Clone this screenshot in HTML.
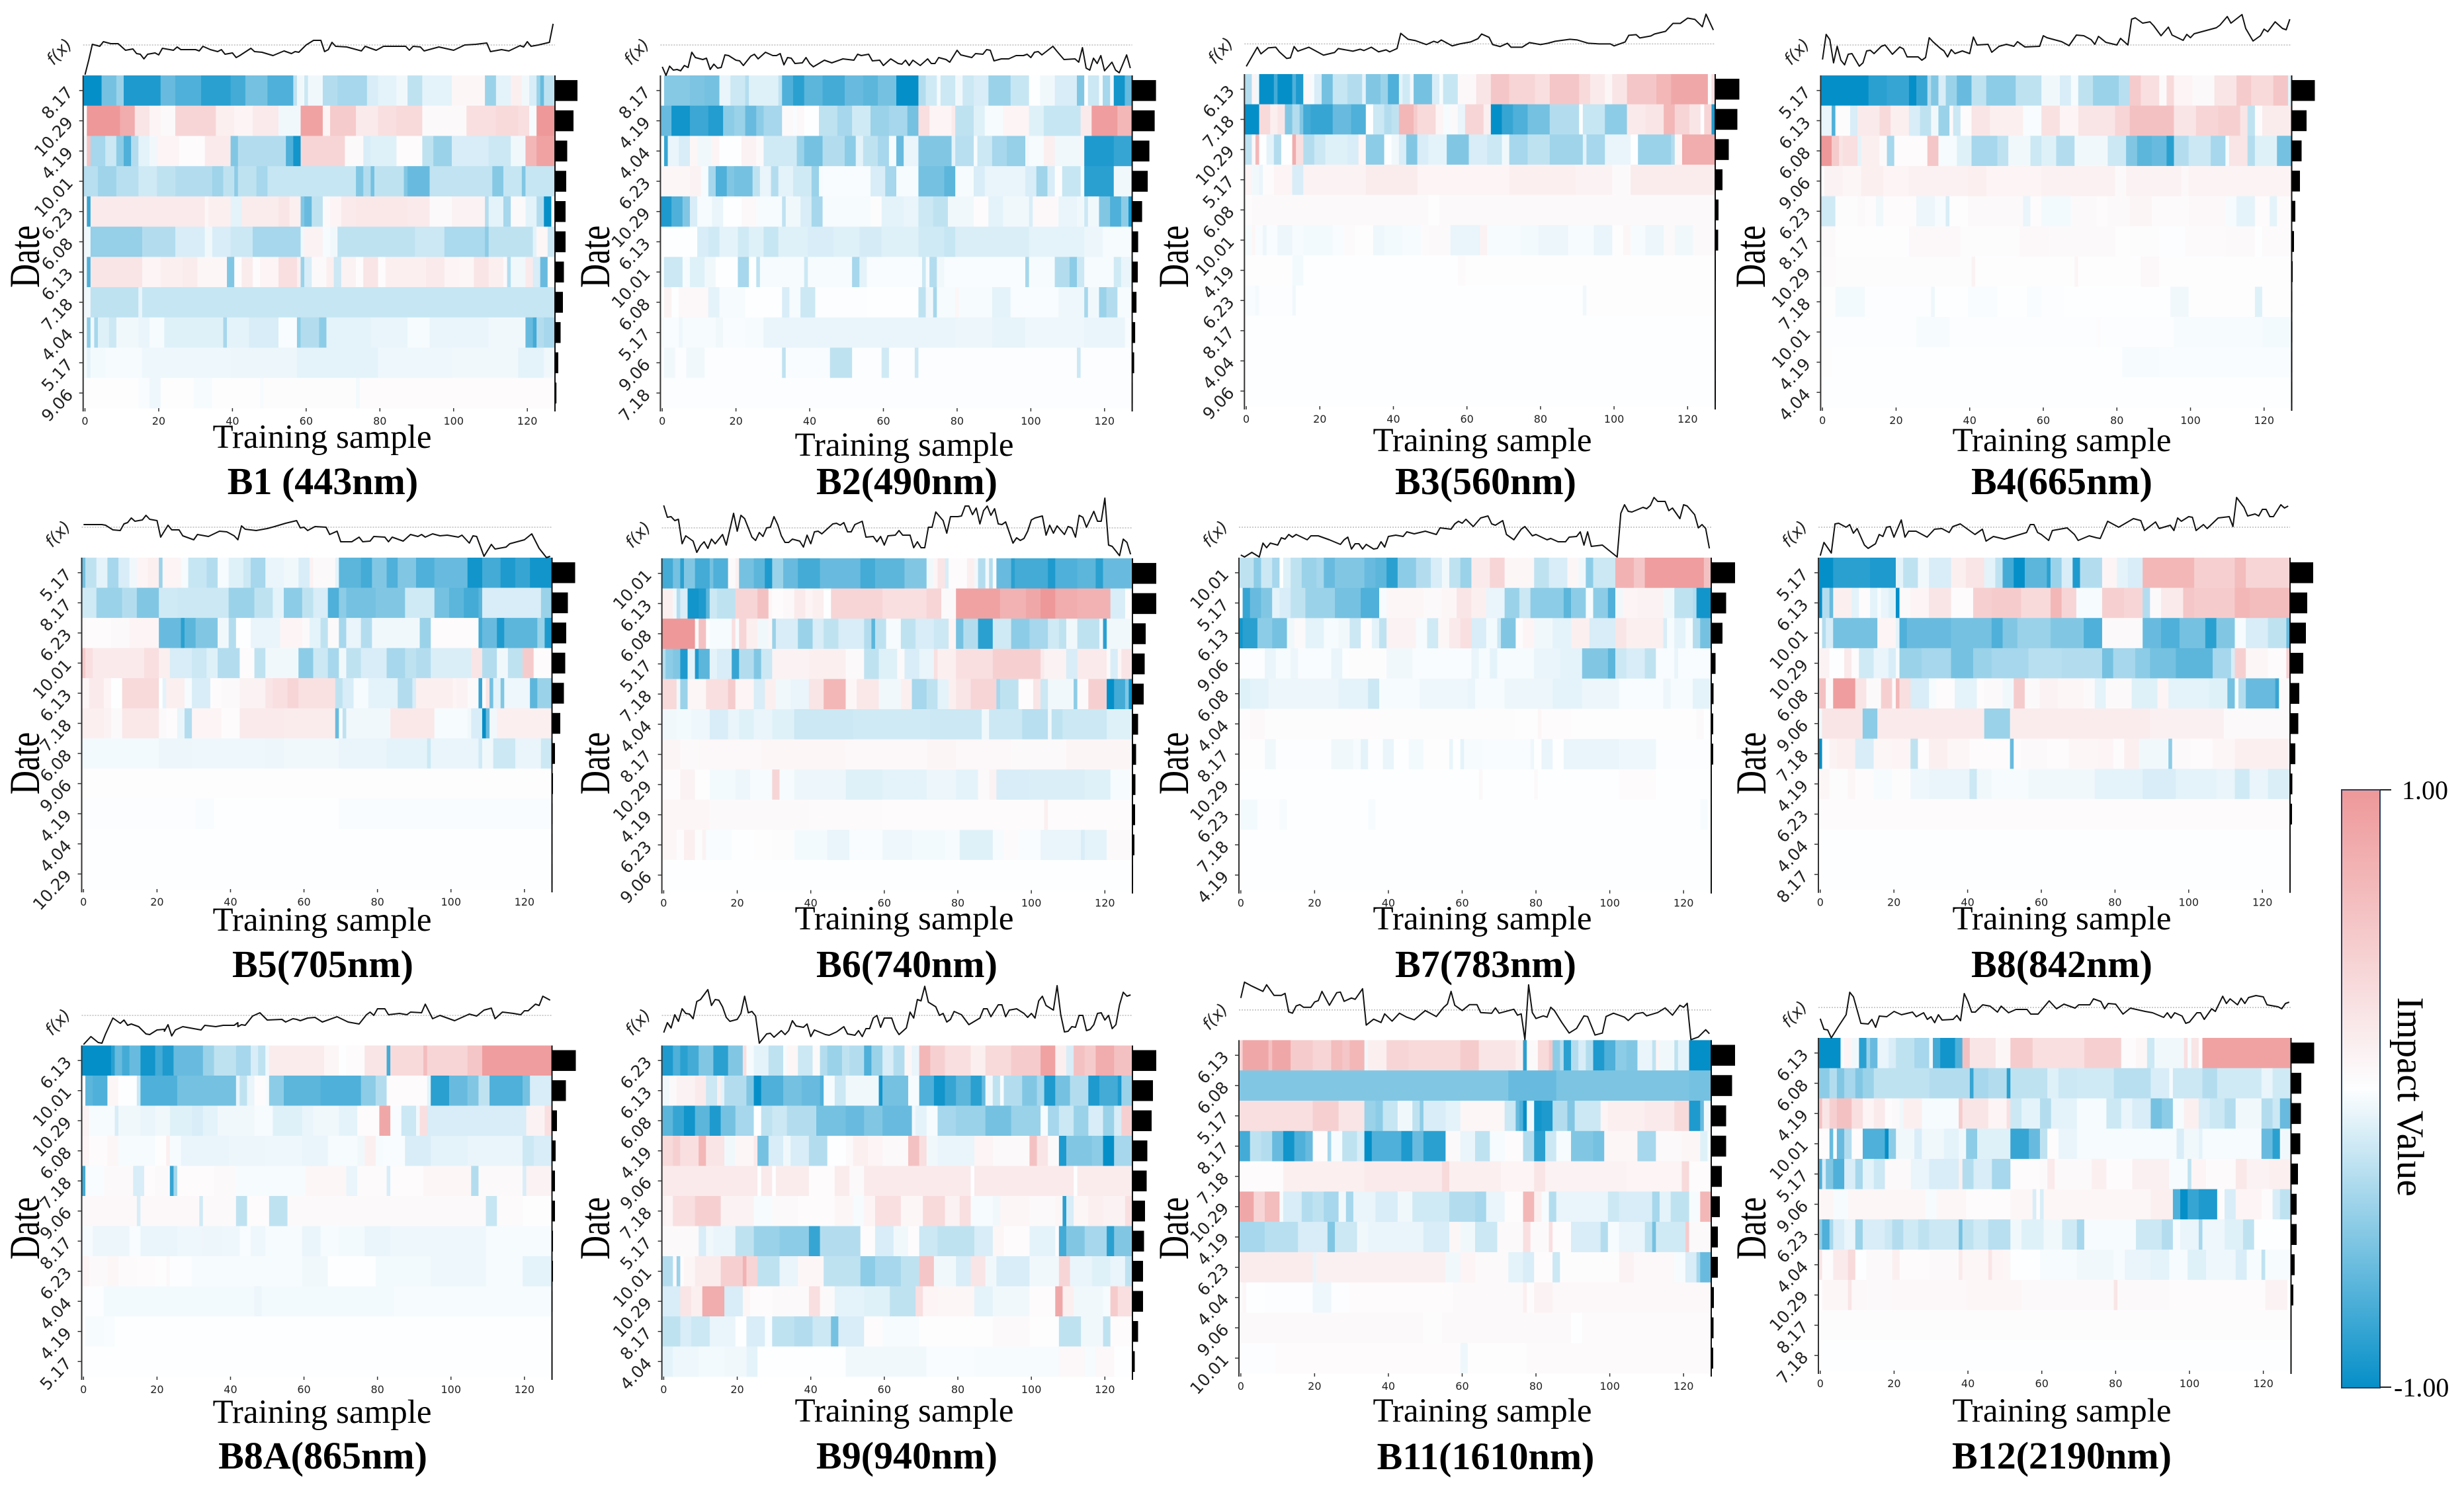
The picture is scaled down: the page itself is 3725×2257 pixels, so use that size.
<!DOCTYPE html>
<html lang="en">
<head>
<meta charset="utf-8">
<title>SHAP heatmaps by band</title>
<style>
html,body{margin:0;padding:0;background:#fff}
svg{display:block}
.serif{font-family:"Liberation Serif",serif}
.sans{font-family:"DejaVu Sans",sans-serif}
</style>
</head>
<body>
<svg id="fig" xmlns="http://www.w3.org/2000/svg" width="3725" height="2257" viewBox="0 0 3725 2257">
<defs><linearGradient id="cbg" x1="0" y1="0" x2="0" y2="1"><stop offset="0" stop-color="#ee9899"/><stop offset="0.5" stop-color="#fdfeff"/><stop offset="1" stop-color="#058fc8"/></linearGradient></defs>
</svg>
<script>
// Heat rows: flat pairs [run end sample, impact x100, ...]. fx: flat pairs [sample, f(x) offset from base]. bars: mean |impact|.
const dates1=["8.17","10.29","4.19","10.01","6.23","6.08","6.13","7.18","4.04","5.17","9.06"];
const bars1=[34,28,18.5,17,16,16,13.5,12,8.5,5,2.2];
const fx1=[0,-45,1,-23,2,1,4,-2,5,5,7,2,9,2,11,-8,13,-6,14,-13,15,-14,16,-21,17,-14,19,-12,20,-15,21,-5,24,-8,25,-3,26,-7,30,-7,31,-9,32,-2,34,-7,36,-10,37,-7,38,-14,40,-12,41,-19,42,-16,45,-5,46,-10,48,-11,51,-16,54,-9,56,-13,57,-10,58,-11,60,0,62,7,64,7,65,-10,66,-7,67,4,68,-2,71,-3,75,-9,76,-2,79,-8,81,-2,87,-2,88,-8,89,-2,91,-3,92,-9,96,-3,100,-8,103,0,106,1,109,3,110,-10,113,-7,115,-9,118,-1,119,-3,120,5,121,-2,123,0,126,4,127,32];
const heat1=[
[5,-100,9,-55,11,-40,21,-90,25,-60,32,-70,40,-85,44,-75,50,-55,57,-70,58,-25,60,-5,61,-20,65,-5,69,-30,77,-35,80,-15,85,-10,88,-5,92,-25,100,-10,109,8,112,-40,116,-10,119,15,121,-5,123,-15,124,-40,125,-60,128,-25],
[1,0,10,100,14,80,18,25,21,10,25,5,36,40,41,15,46,10,53,20,59,-5,65,90,67,10,74,50,80,20,85,30,92,35,104,5,112,30,118,35,121,30,123,-3,128,100],
[1,-5,2,60,6,-35,9,-20,11,-45,13,-70,15,-30,18,-10,20,-5,26,10,33,3,40,20,42,-50,55,-30,57,-70,59,-95,71,40,76,5,78,-15,85,-12,92,3,95,-25,100,-40,110,-15,116,-20,120,-5,123,70,128,90],
[4,-28,9,-38,15,-28,20,-18,25,-25,35,-30,38,-38,41,-25,42,-45,47,-25,50,-35,74,-22,76,-50,78,-30,79,-55,87,-25,88,-50,94,-60,111,-24,114,-48,119,-22,120,-50,128,-22],
[1,3,2,-80,33,20,34,8,40,15,43,-10,53,18,56,25,59,15,60,-50,62,-60,65,-25,67,5,70,10,74,20,88,22,94,20,100,5,109,12,110,-30,114,-10,116,-35,120,5,123,-10,125,-30,127,-100,128,5],
[2,-5,16,-42,25,-30,33,-15,35,-5,40,-15,46,-20,59,-35,60,-5,65,12,67,-3,69,-5,90,-25,98,-20,109,-33,110,-45,122,-25,123,-10,126,8,128,-20],
[1,-5,2,-70,16,25,21,10,27,15,31,18,39,8,41,-50,43,3,46,18,48,3,53,10,58,30,59,15,60,-40,62,-15,66,5,68,15,70,-20,74,12,76,3,80,25,82,3,93,15,98,20,102,10,106,8,110,25,114,15,115,5,116,-30,120,-5,122,20,124,-15,126,-60,128,2],
[2,-5,15,-25,16,-8,128,-22],
[1,-3,2,-45,3,-5,4,-35,7,-12,9,-20,15,-5,18,-8,22,-3,38,-12,39,-35,45,-10,53,-15,58,-2,59,-45,64,-30,66,-45,78,-10,88,-8,94,-3,110,-8,120,-5,122,-60,123,-75,125,-30,128,-35],
[1,-3,2,-10,6,-4,16,-3,40,-6,58,-7,80,-10,100,-6,118,-5,125,-10,128,-5],
[15,1,18,-2,21,-6,30,1,35,-3,48,1,49,-3,74,2,75,-4,128,3]];

const dates2=["8.17","4.19","4.04","6.23","10.29","6.13","10.01","6.08","5.17","9.06","7.18"];
const bars2=[36,34,26,23.5,15,9,8.5,6.5,4.5,3,0.5];
const fx2=[0,-33,1,-46,2,-32,3,-38,4,-37,5,-39,6,-31,7,-34,8,-11,9,-19,11,-22,12,-20,13,-37,14,-29,15,-35,16,-34,17,-15,18,-16,20,-23,21,-24,22,-31,24,-17,25,-14,26,-21,28,-11,30,-16,31,-16,32,-13,33,-30,34,-19,35,-20,36,-28,38,-27,39,-19,40,-28,41,-33,44,-23,46,-27,49,-21,52,-23,53,-14,54,-16,56,-14,57,-24,59,-23,60,-31,62,-21,64,-28,65,-29,66,-23,67,-31,68,-23,70,-31,72,-21,73,-28,74,-28,75,-19,77,-22,78,-26,80,-8,81,-15,84,-19,85,-13,87,-14,88,-7,89,-8,90,-24,92,-21,94,-21,96,-16,98,-16,99,-14,100,-19,101,-11,102,-10,103,-15,106,-2,107,-9,109,-22,112,-21,113,-26,114,-4,115,-35,116,-38,117,-20,118,-28,119,-16,120,-39,122,-26,123,-38,124,-42,126,-15,127,-35];
const heat2=[
[1,0,8,-48,12,-52,16,-55,19,-8,23,-20,24,-30,32,-12,33,-25,36,-70,39,-85,44,-65,50,-75,55,-60,59,-65,64,-55,70,-100,72,-30,75,-18,76,-3,80,-20,82,-5,85,-20,89,-15,95,-40,100,-22,103,0,107,-5,113,-15,115,-50,116,0,119,-20,120,-3,122,-35,123,-5,126,-95,128,-60],
[3,-60,8,-95,13,-78,17,-88,20,-45,23,-40,26,-60,28,-45,33,-35,36,5,37,-2,39,6,43,0,48,-25,52,-35,57,-18,62,-40,67,-35,70,-55,73,30,79,10,80,20,85,-25,88,-12,93,-3,100,10,104,-12,114,-22,117,20,124,95,128,70],
[1,0,2,-80,5,-8,8,-15,10,8,14,-5,16,10,22,0,26,12,28,5,37,-18,39,-40,44,-55,50,-30,53,-45,55,-10,59,-25,62,-35,64,-3,66,-60,70,-8,79,-50,80,-10,85,-28,86,-3,90,-20,94,-35,99,-42,100,-5,104,-3,107,15,114,-5,115,10,123,-90,128,-80],
[8,8,11,12,13,-3,15,-35,18,-70,20,-50,25,-55,27,-25,30,-8,32,-30,36,-10,41,-18,43,-40,44,-3,57,-2,61,-15,64,-35,70,-3,77,-55,80,-65,85,-3,88,-15,99,-8,102,-15,105,-38,107,-15,109,2,114,-22,115,-3,123,-85,128,-5],
[3,-90,6,-70,8,-50,10,-15,14,-3,17,-8,22,0,26,6,33,-3,34,-25,38,-5,41,-15,44,-35,57,-3,60,2,66,-10,70,-8,74,-20,78,-25,85,-5,89,3,93,-10,100,-5,101,-15,108,6,113,-8,115,-5,116,-20,119,-5,122,-50,125,-70,127,-45,128,-95],
[10,0,13,-15,16,-18,21,-10,24,-18,28,-12,32,-22,40,-12,47,-15,54,-12,60,-16,70,-12,77,-18,80,-22,100,-14,115,-10,120,-7,128,-3],
[1,-3,6,-20,8,-3,12,-12,15,-5,21,0,24,-35,26,0,27,-25,39,-3,40,-20,52,-3,54,-35,56,-10,71,-2,72,-20,73,-3,75,-30,77,-5,99,-2,100,-35,107,-3,111,-30,113,-45,115,-20,123,-3,125,-18,128,-8],
[1,0,3,12,5,0,13,7,16,-10,23,-3,33,0,35,-15,38,-3,42,-20,56,-1,70,0,72,-25,74,-5,75,-35,80,-3,81,8,90,-3,95,-10,108,-2,115,-6,116,-35,119,-5,121,-40,124,-30,128,-3],
[5,-2,6,-6,15,-3,17,-5,23,-2,28,-3,80,-8,90,-7,99,-9,115,-6,126,-8,128,-2],
[1,-1,4,-5,7,-1,12,-5,33,-1,34,-25,46,-2,52,-25,60,-1,62,-18,69,-1,70,-20,113,-1,114,-20,128,-1],
[128,-1]];

const dates3=["6.13","7.18","10.29","5.17","6.08","10.01","4.19","6.23","8.17","4.04","9.06"];
const bars3=[36.5,33.5,20.5,11,5,4.5,1,0.5,0.5,0.5,0.5];
const fx3=[0,-34,3,-5,4,-15,6,-6,8,-5,9,-12,11,-22,12,-21,13,-4,14,-11,17,-5,21,-17,24,-13,25,-7,29,-11,31,-8,32,-10,34,-5,36,-12,38,-9,39,-12,41,-7,42,16,44,7,46,5,49,-1,51,4,52,2,53,6,56,-3,58,0,61,3,63,8,64,15,66,10,67,-1,69,-4,71,1,72,-5,75,-5,77,2,80,-1,82,1,84,4,88,7,90,6,93,1,96,0,99,0,100,-3,103,3,104,13,106,14,107,9,110,12,111,15,114,19,116,31,118,31,120,39,122,37,124,26,125,45,127,21];
const heat3=[
[2,-30,3,10,4,-5,8,-100,9,-75,13,-100,14,-70,16,-90,18,6,19,-3,21,-15,24,-55,28,-22,32,-30,33,-10,37,-50,39,-40,42,-70,43,-10,45,-18,46,-5,51,-55,53,-15,54,-3,58,-22,63,6,67,25,72,55,79,40,83,30,91,55,94,35,98,20,100,8,104,25,112,55,116,70,126,85,127,3,128,30],
[4,-100,7,35,9,15,11,25,13,-50,15,-30,16,-50,18,-75,24,-80,29,-60,33,-70,35,0,38,-20,40,-30,42,-25,46,70,47,50,52,35,54,10,56,-3,58,5,60,-8,65,40,67,15,70,-100,73,-80,77,-70,83,-55,91,-30,92,0,98,-22,104,-45,109,20,114,25,117,70,121,40,124,25,125,0,127,40,128,-90],
[2,-25,3,8,4,70,6,0,8,-10,10,-30,13,0,14,80,16,30,19,-30,22,-20,28,-12,31,-15,33,10,38,-45,40,0,42,-5,44,-15,47,-50,50,-15,55,-10,61,-50,66,-15,70,-20,72,-5,77,-35,83,-25,92,-38,93,-10,98,-35,105,-8,107,0,116,-40,117,-30,119,8,128,80],
[2,10,4,-5,5,-8,8,3,13,10,16,-15,33,12,47,18,72,10,90,15,100,12,105,5,128,18],
[2,3,50,5,53,1,128,5],
[2,-3,3,8,5,-2,6,-7,9,-2,13,-7,16,-3,24,-4,27,-2,30,4,35,1,38,-6,43,-4,48,-3,50,4,56,5,64,-8,66,12,75,-3,80,-4,88,-7,95,-3,100,-8,103,1,105,8,109,-3,114,-7,117,5,122,-5,128,5],
[13,1,16,-4,58,0,60,4,128,1],
[3,-2,4,-4,13,-1,14,-5,92,0,93,-5,128,1],
[128,0],[128,0],[128,0]];

const dates4=["5.17","6.13","6.08","9.06","6.23","8.17","10.29","7.18","10.01","4.19","4.04"];
const bars4=[35,22.5,15,12.5,5.5,3.5,1.5,1,1,0.5,0.5];
const fx4=[0,-22,1,16,2,8,3,-27,4,-2,5,-23,6,-30,7,-14,8,-13,10,-32,11,-27,12,-9,13,-8,14,-13,16,-2,17,0,19,-14,21,-3,22,-6,23,-18,26,-18,27,-23,28,-19,29,11,30,5,32,-5,33,-9,34,-18,35,-7,36,-13,38,-9,40,-13,41,12,42,0,45,1,46,-11,48,-2,50,1,52,-2,53,5,55,-3,59,-2,60,14,61,11,65,5,67,-1,69,15,71,14,73,8,74,1,75,13,77,4,80,0,81,10,83,0,84,39,85,41,87,33,89,35,90,29,92,14,94,27,95,15,98,7,99,16,100,11,101,17,107,26,108,30,110,43,111,33,114,46,115,25,117,6,119,14,120,24,121,20,123,35,125,25,126,23,127,39];
const heat4=[
[13,-100,18,-85,24,-80,26,-100,29,-80,30,-30,32,-50,34,-15,37,-40,41,-60,45,-25,53,-45,60,-25,65,-5,68,-15,70,-3,74,-25,81,-40,84,-28,87,50,92,30,94,5,96,35,101,10,107,5,113,25,117,50,123,35,127,55,128,-10],
[3,-8,4,-70,8,2,10,-15,16,20,19,35,24,15,27,-15,30,-25,32,-5,35,-40,36,5,38,-20,41,3,46,25,55,15,60,-2,65,28,70,10,80,25,84,40,96,60,102,25,108,40,114,45,116,25,118,-25,120,3,128,18],
[3,100,5,50,6,25,10,30,11,-10,16,15,18,5,20,-35,29,3,32,55,37,-3,41,-12,48,-35,51,-25,57,-5,60,-20,64,-12,69,-30,78,-5,83,-20,86,-50,90,-65,94,-60,96,-85,100,-30,106,-20,110,-35,111,-3,116,25,118,-30,124,-12,128,-55],
[1,3,6,12,11,8,17,15,24,10,40,13,45,15,60,10,80,13,83,5,98,12,100,6,128,11],
[4,-18,10,2,12,5,15,3,17,-5,26,3,31,-7,34,-3,35,-15,40,1,55,5,57,-8,60,3,68,-4,75,5,78,3,84,5,90,9,100,4,110,6,113,-3,118,-10,122,3,124,-10,128,4],
[4,5,24,1,38,6,54,2,62,6,80,5,84,1,92,2,99,-1,110,4,118,5,120,0,128,4],
[4,4,41,2,42,12,69,1,70,10,87,1,92,7,128,1],
[4,1,12,-4,30,-1,31,-6,40,0,48,-2,56,0,60,-2,66,-1,95,0,100,-5,118,1,120,-12,128,1],
[26,-1,35,-3,75,-1,76,3,96,-1,120,-3,128,-4],
[3,1,82,0,92,-3,128,-2],
[128,0]];

const dates5=["5.17","8.17","6.23","10.01","6.13","7.18","6.08","9.06","4.19","4.04","10.29"];
const bars5=[35,24,21.5,20,18,12.5,4.5,1.5,1,0.5,0.5];
const fx5=[0,4,5,4,6,3,8,-4,10,-5,11,5,12,7,13,14,14,9,16,11,17,18,18,12,20,10,21,-15,23,3,24,-4,26,-4,27,-13,30,-19,31,-11,34,-14,37,-6,39,-7,41,-13,42,-19,43,2,44,-3,47,-5,50,-2,52,1,55,6,58,10,59,-1,60,0,61,-5,63,1,66,0,67,-11,69,-6,70,-22,73,-22,75,-15,76,-22,78,-21,79,-14,82,-15,83,-22,84,-15,87,-21,89,-11,91,-14,92,-11,93,-15,95,-10,97,-13,99,-12,102,-15,103,-12,105,-24,106,-13,107,-14,109,-44,111,-26,112,-33,115,-30,116,-25,120,-19,122,-10,124,-32,126,-46,127,-44];
const heat5=[
[1,-55,4,-25,7,-10,10,-35,13,-15,15,-5,18,10,21,15,22,-40,27,10,29,-3,34,-22,37,-30,40,-3,44,-12,46,-20,50,-35,52,-8,55,-8,59,-5,62,-15,63,12,66,5,69,5,70,-10,76,-65,79,-75,83,-50,86,-70,91,-50,96,-70,105,-60,109,-95,114,-75,118,-90,122,-80,128,-95],
[4,-18,11,-40,15,-30,21,-50,26,-18,40,-20,47,-40,52,-25,55,-10,60,-45,63,-25,67,-15,70,-70,72,-45,80,-55,88,-50,96,-18,100,-55,104,-65,108,-75,109,-65,125,-15,128,-40],
[1,5,8,3,13,5,21,10,27,-60,28,-85,31,-65,37,-50,40,-5,42,-30,46,0,54,-8,60,10,62,5,65,-10,67,-25,70,5,72,-35,76,-8,79,-30,92,-5,95,-40,108,3,109,-75,113,-60,115,-90,124,-65,126,-40,128,-90],
[1,50,3,30,17,20,21,30,24,15,30,-15,34,-20,37,-12,43,-30,47,3,50,-25,59,-5,63,-45,67,-20,70,-35,72,-5,76,-25,83,-15,88,-35,91,-25,95,-30,106,-14,109,25,113,-30,116,-5,120,-25,123,50,128,3],
[2,8,6,20,8,10,11,0,21,35,22,0,23,-10,28,15,30,-3,35,-15,38,3,43,5,50,12,52,25,56,30,59,40,69,28,71,-25,74,-15,78,-3,86,-10,90,-30,91,-15,101,15,102,10,105,12,108,5,109,-80,110,5,111,25,112,-55,114,-10,115,-50,122,-6,124,-65,128,-40],
[6,15,8,12,11,5,21,22,23,5,26,3,28,-8,30,-30,38,10,43,3,55,20,69,18,70,-60,71,-3,72,-25,84,-5,96,22,105,-3,106,-5,109,-15,110,-100,111,-60,113,-5,128,15],
[21,-4,30,-7,50,-6,55,-7,70,-5,83,-8,94,-10,95,-20,108,-8,109,-18,112,-5,118,-20,125,-8,128,-20],
[128,1],
[31,-1,36,-2,70,0,128,-2],
[128,0],[128,0]];

const dates6=["10.01","6.13","6.08","5.17","7.18","4.04","8.17","10.29","4.19","6.23","9.06"];
const bars6=[36,36,20,18.5,17,8.5,5.5,4.5,4,3,0.5];
const fx6=[0,34,1,16,2,17,3,11,4,13,5,-24,6,-12,8,-20,9,-37,10,-27,11,-21,12,-31,13,-17,14,-24,16,-10,17,-26,19,22,20,-5,21,19,22,14,24,-14,25,-19,26,-7,27,-13,28,0,29,1,30,17,31,5,32,-12,33,-22,34,-22,35,-17,37,-20,38,-29,39,-11,40,-24,41,-6,42,-5,43,-9,46,6,47,7,48,4,49,8,50,-6,51,-6,52,5,54,10,55,-14,57,-13,58,-21,59,-13,60,-26,61,-12,63,-11,64,-4,65,-11,67,-11,68,-30,69,-21,70,-30,71,-30,72,1,73,1,74,24,76,11,77,-8,78,17,80,17,81,18,82,33,83,33,84,20,85,30,86,6,87,26,88,33,89,19,90,29,91,6,92,5,93,9,95,-23,96,-15,97,-19,98,-16,99,-5,100,12,101,15,103,18,104,-11,105,4,106,-8,107,3,109,-10,110,2,111,0,112,-14,113,19,114,16,115,1,117,25,118,10,119,10,120,45,121,-26,122,-28,124,-42,125,-17,126,-22,127,-40];
const heat6=[
[3,-75,5,-55,6,-85,9,-50,13,-75,14,-55,18,-70,20,5,21,15,25,-55,28,-65,30,-90,33,-40,37,-60,43,-75,54,-60,58,-75,66,-65,72,-50,74,-5,75,10,77,25,78,-15,83,3,85,15,86,-5,88,-30,89,-5,90,-30,91,5,95,-60,96,-85,105,-75,107,-90,113,-70,118,-65,120,-85,128,-60],
[3,15,4,-5,5,-30,7,-15,10,-95,12,-90,13,-65,15,-20,20,-25,26,40,29,60,30,8,33,3,36,6,39,20,41,10,44,15,46,0,60,40,72,30,76,40,80,5,92,90,99,75,103,85,107,100,113,80,122,75,126,-15,128,3],
[9,100,10,5,12,60,13,0,19,-3,20,30,21,-3,23,40,26,15,29,-5,30,8,31,-40,37,-15,41,-40,44,-15,48,-25,55,-15,57,-30,58,-65,61,-25,65,-3,69,-25,74,-15,78,-20,80,10,82,-55,86,-30,90,-85,95,-18,100,-45,105,-35,108,-18,110,-25,113,-5,119,-25,120,-5,121,-85,128,-5],
[1,-30,3,-45,5,-50,7,-90,9,-10,10,-90,13,-65,15,-10,19,-15,21,-80,25,-30,27,-50,30,-20,40,12,50,15,55,5,59,-25,64,-12,66,5,70,-15,74,-8,75,30,80,15,90,30,103,45,104,20,110,12,113,-15,121,20,122,5,124,-15,125,8,128,25],
[4,35,5,-5,7,-40,12,8,18,30,20,50,25,10,28,-15,31,15,35,-5,40,-8,44,25,50,70,53,8,59,22,65,-5,68,15,72,-35,75,-25,78,-10,80,15,84,25,91,40,92,-35,97,-25,101,3,103,25,105,-20,112,-5,113,-45,116,5,121,45,123,-100,126,-75,127,-50,128,-100],
[4,-5,8,-4,13,-6,18,-15,21,-8,25,-12,30,-8,36,-12,52,-20,73,-18,87,-20,89,-5,98,-20,105,-28,106,-5,109,-25,121,-20,128,-12],
[5,9,10,5,27,7,50,8,72,6,80,9,95,7,110,5,128,9],
[5,3,9,12,13,1,20,-4,24,-7,30,-3,32,40,36,-3,50,-7,60,-12,72,-10,80,-7,86,-10,89,5,91,12,100,-15,115,-14,122,-12,128,-3],
[13,8,40,5,60,4,104,3,105,15,128,3],
[4,8,6,3,9,15,11,2,12,12,19,-2,25,0,30,1,36,2,45,-4,51,-8,60,-2,68,-6,77,-4,81,-3,90,-12,93,-3,97,4,103,-2,114,-8,115,-15,121,-10,128,5],
[128,0]];

const dates7=["10.01","5.17","6.13","9.06","6.08","4.04","8.17","10.29","6.23","7.18","4.19"];
const bars7=[36,22.5,17,6.5,3.5,3,3,0.3,0.3,0.3,0.3];
const fx7=[0,-42,1,-45,3,-38,5,-45,6,-24,7,-31,8,-24,10,-27,11,-16,12,-18,13,-11,14,-15,15,-11,18,-19,19,-13,21,-13,24,-19,27,-26,28,-19,29,-15,30,-33,31,-25,32,-25,33,-33,34,-26,36,-33,37,-32,38,-22,39,-30,40,-14,42,-12,44,-14,45,-7,47,-10,50,-6,53,-11,54,-1,57,-3,58,5,59,9,60,6,61,12,63,1,65,14,67,17,68,5,69,3,71,10,72,-11,74,-19,76,-3,77,1,79,-13,80,-11,83,-19,84,-17,86,-22,88,-22,89,-15,91,-14,92,-7,93,-27,94,-7,95,-29,98,-27,100,-36,102,-45,103,21,104,34,105,24,106,23,109,30,110,28,111,33,112,45,113,39,115,39,116,25,117,29,119,13,120,34,121,32,123,19,124,-1,125,4,126,-2,127,-32];
const heat7=[
[4,-25,6,-45,9,-20,11,-35,12,0,14,-12,17,-25,21,-40,23,-35,26,-60,34,-50,37,-60,40,-65,43,-85,48,-45,52,-30,55,-15,57,-5,60,-25,63,-40,68,20,72,40,80,8,84,-25,89,-15,92,8,94,-5,96,-45,102,-20,107,75,110,55,126,95,128,60],
[1,-3,3,-80,6,-60,9,-50,11,-10,14,-15,18,-25,26,-40,33,-55,38,-70,40,-3,50,8,55,5,59,8,63,25,67,15,72,-8,76,-40,79,-20,88,-45,90,-65,94,-45,96,-3,100,-45,102,-70,104,-5,108,10,115,12,118,-5,123,-25,124,-30,128,-95],
[1,-95,5,-85,9,-45,13,-55,15,-5,18,5,23,-10,27,-3,30,-5,33,-20,36,3,38,-10,40,-25,48,12,51,-3,54,-18,57,8,60,20,63,30,67,-15,70,-4,71,-20,75,-50,77,3,80,10,85,-5,90,-10,95,15,102,-15,105,25,115,15,116,-15,118,-3,121,-10,123,-3,125,-30,128,-55],
[7,-1,10,-8,14,-3,16,-7,25,-2,28,-8,30,-1,40,2,47,-5,63,-2,65,-8,68,-3,70,-10,80,-3,87,-8,93,-10,100,-50,102,-65,105,-20,110,-15,113,-25,118,-2,119,-8,128,-2],
[3,-12,8,-10,27,-7,35,-10,38,-20,49,-3,62,-6,64,-8,72,-3,85,-7,93,-10,103,-7,115,-2,117,-7,123,-3,128,-10],
[3,3,7,6,30,2,38,3,75,2,81,1,82,8,90,3,124,1,126,5,128,0],
[7,1,10,-5,25,-1,31,-5,33,-3,35,-10,39,-1,42,-8,46,0,50,-4,57,1,58,-8,60,0,61,-10,66,-3,79,-2,80,-6,82,0,85,-8,88,0,103,-8,113,-6,128,-1],
[65,0,66,6,80,0,81,5,103,0,113,3,128,0],
[5,-4,11,-1,13,-3,35,0,37,-3,125,0,127,-3,128,0],
[128,0],[128,0]];

const dates8=["5.17","6.13","10.01","10.29","6.08","9.06","7.18","4.19","6.23","4.04","8.17"];
const bars8=[35,26,24,20,14,12.5,8,3.5,3,0.3,0.3];
const fx8=[0,-43,1,-23,3,-39,4,5,5,6,7,0,8,4,9,-9,10,-2,12,-27,13,-32,15,-25,16,-11,17,-14,18,0,19,1,20,-15,22,11,23,-15,24,-6,26,-6,29,-15,31,-3,33,-2,35,-8,36,1,38,5,40,-3,42,-11,44,-3,45,-21,47,-14,50,-18,53,-13,56,-8,57,4,58,4,59,-8,60,-11,62,-20,63,-5,67,-1,69,-11,70,-20,73,-13,75,-16,76,-17,78,9,81,0,85,13,87,10,88,-5,91,8,92,-2,95,3,96,-5,97,14,98,9,100,16,101,15,102,-5,104,4,105,-2,108,14,111,16,112,1,113,45,115,30,116,17,118,20,119,17,120,27,121,27,122,16,123,16,125,34,126,29,127,32];
const heat8=[
[4,-100,14,-85,21,-90,23,-10,27,-25,30,-5,36,-15,40,15,45,25,48,-10,50,-25,53,-75,56,-100,62,-65,63,-85,66,-40,69,-15,71,-90,77,-30,81,10,84,-10,88,-15,102,70,113,45,116,65,128,40],
[1,-100,3,-30,4,-60,9,15,11,-10,14,3,16,-10,17,-3,19,-8,21,-12,22,-100,25,5,30,10,36,25,42,3,47,45,55,50,63,35,66,70,70,40,77,-3,83,45,88,40,90,-30,93,5,99,20,102,55,113,50,117,70,128,65],
[1,3,2,-30,4,-15,16,-55,21,10,22,-10,24,-70,36,-60,47,-55,50,-70,54,-50,63,-40,72,-50,77,-70,88,5,93,-60,98,-70,105,-55,108,-85,113,-50,116,-3,122,-15,127,-25,128,-60],
[3,12,7,0,9,20,11,3,15,-18,19,-8,21,-15,22,-3,28,-40,36,-35,42,-55,47,-40,57,-35,66,-28,77,-30,80,-55,86,-35,90,-45,97,-55,107,-65,112,-35,113,-15,116,45,122,8,127,3,128,45],
[2,60,4,5,10,95,13,25,17,5,20,45,21,5,22,70,25,30,30,-15,32,-3,37,3,43,-10,45,3,50,5,53,-5,56,50,60,5,65,12,72,8,75,5,78,-10,85,5,92,-12,95,10,106,-10,111,-12,113,-55,114,-3,116,-30,124,-60,125,-80,128,5],
[1,-5,12,25,16,-45,45,20,52,-40,90,18,110,14,128,5],
[1,-100,3,3,5,12,10,15,15,-15,20,8,25,10,27,-25,30,3,35,15,41,8,52,3,53,-60,55,3,62,5,68,3,76,8,80,10,83,3,87,15,95,-5,96,-45,101,5,107,3,113,8,128,15],
[3,8,8,2,10,8,15,3,20,-3,25,2,30,-6,41,-8,43,-20,47,-5,57,-3,75,-5,88,-10,97,-15,108,-10,113,-8,117,-18,122,-8,128,-14],
[128,3],[128,0],[128,0]];

const dates9=["6.13","10.01","10.29","6.08","7.18","9.06","8.17","6.23","4.04","4.19","5.17"];
const bars9=[36,21,7.5,5.5,4.5,4.5,1.5,1.5,1,0.3,0.3];
const fx9=[0,-44,2,-32,4,-41,5,-42,6,-28,8,-4,10,-12,11,-7,12,-15,13,-13,15,-17,17,-28,18,-29,20,-22,22,-21,22,-24,23,-14,24,-31,25,-22,27,-17,32,-22,33,-15,36,-17,38,-15,41,-15,42,-11,42,-17,43,-14,44,-15,46,-1,48,4,50,-7,54,-6,55,-10,57,-5,58,-6,59,-8,61,-4,63,-3,65,-10,69,-2,72,-10,75,-13,77,1,78,5,79,0,80,10,82,10,83,1,86,3,88,1,89,5,92,4,93,17,95,-5,97,0,101,-8,105,2,107,-1,109,8,111,11,112,-5,114,5,117,3,119,1,120,7,121,7,123,17,124,15,125,29,127,23];
const heat9=[
[8,-100,9,-85,11,-60,13,-75,16,-60,20,-95,22,-75,25,-90,33,-60,36,-40,42,-25,46,-35,48,-15,50,-25,51,-5,66,18,70,8,72,0,77,3,83,25,84,-75,93,35,94,65,105,40,109,55,128,95],
[1,0,3,-65,7,-70,10,8,15,0,16,-20,26,-70,42,-55,43,-8,45,-25,47,-8,50,3,51,-3,55,-45,65,-65,76,-70,80,-45,83,-30,94,3,95,-10,100,-85,105,-60,108,-50,111,-25,120,-70,122,-55,128,-15],
[2,12,9,-3,10,-15,16,-5,20,-8,24,-5,30,-12,33,-15,37,-10,47,-5,52,-3,60,-12,63,-8,70,-5,75,-10,81,3,84,85,87,-2,91,-20,92,-5,94,30,121,-15,126,12,128,30],
[2,10,7,3,10,8,20,-3,23,1,24,15,27,-3,40,-8,50,-7,60,-6,67,-8,75,-3,77,-5,80,15,82,-3,88,-2,95,-15,105,-10,120,-8,123,-20,128,-15],
[1,-75,6,-2,14,5,17,-15,20,3,24,5,25,-80,26,-35,36,3,42,5,61,-3,72,8,75,-8,83,4,84,-15,93,3,106,8,108,-30,120,5,121,-15,128,12],
[15,6,16,-15,32,6,33,-18,42,5,45,-25,51,3,56,-25,110,5,113,-22,120,4,128,1],
[3,-3,13,-7,16,-2,26,-8,33,-6,38,-7,43,-6,46,-2,50,-6,60,-3,65,-8,70,-3,77,-4,84,-8,110,-6,128,-3],
[2,10,7,5,10,8,15,4,20,3,23,1,24,6,30,-1,60,-3,67,-5,80,0,95,-4,110,-6,120,-3,128,-10],
[6,-1,47,-4,49,-7,85,-4,128,-3],
[1,0,6,-3,9,-2,128,0],
[128,0]];

const dates10=["6.23","6.13","6.08","4.19","9.06","7.18","5.17","10.01","10.29","8.17","4.04"];
const bars10=[36,31,29,22.5,21.5,19,17.5,16,16,8.5,3.5];
const fx10=[0,-26,1,-11,2,-19,3,1,4,-9,5,10,6,3,7,2,8,-5,9,21,10,24,12,39,13,15,14,24,15,23,16,13,17,-3,18,-9,20,-6,21,3,22,29,23,4,24,6,25,-1,26,-42,28,-28,29,-27,30,-33,32,-23,33,-29,34,-23,35,-8,36,-16,38,-18,39,-13,40,-32,41,-22,44,-29,45,-30,47,-25,49,-17,50,-28,52,-30,53,-23,54,-32,55,-20,56,-20,57,-4,58,0,59,-18,60,-4,62,-4,63,-20,64,-29,66,-19,67,5,68,-4,69,24,70,22,71,44,72,20,74,13,75,0,76,3,77,-10,78,-6,79,6,81,1,83,-14,86,-4,87,10,88,10,89,-2,91,16,92,16,93,-2,94,8,96,10,98,3,99,-3,100,3,101,-4,102,22,103,29,104,15,106,8,107,45,108,1,109,-25,110,-24,111,-17,112,-18,113,0,114,0,115,-23,116,-21,117,-14,118,3,119,4,120,-7,121,0,122,-20,123,-14,124,16,125,35,126,29,127,31];
const heat10=[
[3,-90,5,-70,7,-85,10,-75,14,-50,18,-85,22,-50,23,30,25,-3,29,-10,33,-25,34,-3,37,8,41,-20,43,5,45,-30,49,-40,51,-25,55,-30,57,-70,60,-40,63,-15,66,-30,68,8,70,-8,73,70,77,45,84,30,88,15,95,35,103,50,107,90,110,15,112,-15,115,60,118,50,123,80,128,60],
[2,-5,4,5,9,12,12,20,15,-20,16,15,17,-10,23,-30,25,-50,27,-100,33,-70,38,-55,43,-60,44,-70,47,-3,50,-20,59,-5,60,-95,67,-55,70,-3,74,-70,77,-95,80,-80,84,-65,87,-85,88,-60,90,-5,92,-25,93,-3,98,-30,102,-50,104,-35,107,-90,111,-55,116,-30,119,-90,124,-75,125,-90,128,-40],
[3,-65,6,-80,9,-95,13,-65,16,-90,20,-55,25,-35,27,0,30,-25,34,-20,42,-30,50,-55,55,-60,60,-50,68,-60,69,-5,72,-10,75,-3,80,-35,88,-40,95,-55,103,-40,105,-3,108,-35,112,-20,116,-40,120,-15,123,-40,125,-15,128,45],
[3,35,5,45,10,30,12,70,17,25,20,-5,25,8,26,20,29,-55,33,-15,35,-5,40,-15,45,-30,50,0,52,5,56,15,60,10,67,5,70,60,72,30,75,-5,85,-8,90,10,100,5,102,60,105,25,108,5,110,-90,117,-50,120,-45,123,-100,128,-35],
[26,20,27,0,30,20,31,0,40,18,47,3,51,18,55,5,84,20,85,0,112,20,113,0,128,18],
[1,12,3,10,9,30,16,45,25,12,30,-3,37,5,47,3,52,8,55,-3,58,10,65,30,71,8,77,35,81,12,84,30,90,-3,92,-5,100,8,107,5,109,8,110,-85,112,-15,116,8,120,15,126,12,128,30],
[10,5,12,-15,14,-5,20,-8,25,-25,32,-40,40,-45,43,-80,54,-30,58,3,63,-15,67,-5,70,3,75,-20,85,-25,90,-15,93,8,100,3,107,-10,108,3,110,-75,115,-50,121,-35,123,-85,128,-50],
[3,-30,4,5,5,-40,6,3,9,8,16,18,22,45,23,75,26,40,32,-25,37,-8,44,8,54,-25,58,-45,65,-35,70,-25,74,55,80,-5,84,-15,88,25,91,-5,100,-15,108,-5,111,40,117,-8,122,-12,126,-8,128,-25],
[5,-15,8,25,11,15,17,80,22,-15,24,8,30,3,40,5,43,30,47,5,55,-10,62,-12,69,-25,71,30,75,10,85,8,90,-10,100,-5,107,3,109,85,112,15,120,-5,122,-3,124,50,128,30],
[5,-25,8,-15,13,-20,20,-8,23,0,28,-15,30,-2,36,-25,41,-30,46,-20,48,-55,55,-15,60,3,70,-3,90,1,100,5,108,1,114,-25,120,-5,122,-25,128,3],
[3,-10,10,-6,17,-4,23,-5,26,-10,50,0,72,-5,85,-2,108,-3,115,6,118,-3,123,7,128,0]];

const dates11=["6.13","6.08","5.17","8.17","7.18","10.29","4.19","6.23","4.04","9.06","10.01"];
const bars11=[36,31.5,22.5,22.5,16,13,10,10,4,3.5,3];
const fx11=[0,18,1,42,3,36,6,28,7,38,9,22,11,22,12,25,13,-3,14,-5,15,6,16,8,17,4,19,4,20,12,21,14,22,28,24,7,26,26,27,27,28,13,30,18,31,16,33,32,34,-23,36,-14,38,-19,39,-6,41,-17,43,-5,45,-11,47,-15,50,-1,53,-10,55,4,56,9,57,28,58,7,60,-1,62,8,64,8,65,-4,68,-5,69,3,70,-5,74,1,75,-8,76,-6,77,-45,78,38,79,-4,80,-13,82,-9,83,-11,84,4,85,-1,87,-19,89,-35,91,-28,93,-9,94,-10,96,-38,98,-35,99,-10,101,-5,104,-11,105,-16,107,-6,109,-4,110,-9,113,-4,115,3,117,-8,119,7,120,4,121,10,122,-45,124,-41,126,-30,127,-36];
const heat11=[
[1,40,8,85,9,60,14,85,20,50,25,40,28,65,30,55,34,70,35,-5,40,15,46,40,60,35,65,50,75,25,77,15,78,-85,81,5,84,35,85,55,87,-45,88,-30,90,-85,92,-30,94,-15,96,-30,99,-90,102,-70,105,-45,108,-50,112,-8,113,-25,114,10,118,-5,119,-25,122,-10,128,-100],
[73,-50,86,-60,122,-52,128,-55],
[20,30,27,45,34,25,37,-40,39,-45,43,-22,47,-5,49,-25,50,-45,56,-15,60,-10,72,8,75,-20,76,-60,77,-70,78,-100,80,-5,82,-95,85,-90,89,-30,91,-50,98,-20,100,10,110,15,118,20,122,35,125,-90,126,-60,128,-5],
[3,-75,6,-25,9,-30,12,-60,15,-95,18,-70,20,-60,24,3,25,-35,28,-3,32,-25,34,-15,36,-100,44,-70,47,-90,50,-60,56,-85,60,5,64,-8,68,-25,72,-3,77,3,80,-30,83,-85,86,-20,90,-3,96,-50,99,-55,108,8,113,-35,120,5,125,8,127,-12,128,-3],
[12,3,34,15,55,20,57,35,71,15,80,10,83,25,90,12,105,12,120,10,122,35,128,3],
[4,85,7,40,11,65,12,-3,17,-15,20,-30,23,-25,27,-35,29,-5,31,-35,37,-8,43,-15,47,-5,57,-18,64,-30,67,-35,72,-8,77,3,80,70,82,15,84,-3,86,-30,100,-8,103,-20,112,-15,114,-35,117,-10,122,-25,125,-3,128,70],
[7,-35,16,-28,24,-15,26,-50,32,-20,35,-5,50,-8,57,-15,60,8,64,-5,70,-20,77,5,79,30,84,5,85,30,90,3,98,-15,100,-30,103,-3,110,-8,112,-25,113,-55,121,-18,122,50,128,5],
[20,18,21,-8,56,14,60,-5,64,10,73,5,77,-10,80,-15,85,3,87,-20,103,2,107,12,118,6,121,-3,124,-15,125,-35,128,-60],
[1,3,2,8,7,0,20,-1,25,-6,30,-1,58,3,77,5,78,15,80,3,85,12,128,6],
[50,5,55,2,90,5,93,0,128,4],
[10,-1,60,3,62,-6,78,1,128,4]];

const dates12=["6.13","6.08","4.19","10.01","5.17","9.06","6.23","4.04","10.29","8.17","7.18"];
const bars12=[35,15.5,15,14,10.5,8.5,8.5,5.5,3.5,0.3,0.2];
const fx12=[0,-17,1,-33,2,-34,3,-46,5,-28,7,-11,8,23,9,16,11,-24,13,-25,14,-18,15,-30,16,-13,18,-14,20,-6,22,-11,25,-7,26,-14,28,-8,29,-18,30,-14,31,-23,32,-11,33,-19,36,-18,37,-12,38,-20,39,21,40,9,41,-7,42,-7,44,4,46,2,48,-7,49,2,51,-8,53,-3,56,-3,57,-10,59,-10,62,10,64,-2,66,5,69,-1,70,4,73,4,74,13,76,9,77,-2,78,6,80,5,82,-10,84,-1,88,-6,90,-8,93,-15,94,-8,95,-16,96,-8,98,-13,99,-24,100,-22,102,-8,103,-8,104,-18,106,-2,107,-6,109,17,110,6,111,13,113,4,114,14,115,6,116,15,118,18,120,16,121,4,124,1,125,-2,126,6,127,8];
const heat12=[
[6,-100,7,-3,9,10,11,-5,13,-85,14,-40,16,-60,19,-8,21,-15,26,-25,30,-35,31,-5,33,-75,37,-95,39,-70,41,60,48,25,52,8,58,50,72,30,82,45,86,3,89,8,91,-20,99,-5,100,30,101,-3,103,25,104,3,128,90],
[3,-45,5,-30,7,-50,10,-35,12,-50,15,-40,30,-25,41,-30,42,-80,46,-35,51,-30,52,-85,62,-25,65,-12,70,-20,80,-18,90,-28,95,-15,96,-3,104,-20,108,-30,120,-18,123,-8,128,-18],
[1,60,3,25,5,45,9,60,12,30,15,10,18,20,20,3,22,5,23,-5,28,15,38,-3,39,50,46,25,51,10,52,30,55,-20,60,-10,63,-30,70,-10,78,-3,82,-20,85,-8,90,-15,93,-55,96,-45,99,-3,103,15,106,-15,110,-20,113,-30,120,-5,123,-30,125,-20,128,-60],
[3,3,4,-60,5,-3,7,-60,9,-30,12,3,18,-70,19,-100,21,-45,26,-5,28,-15,34,-5,38,-10,40,-5,43,-45,52,-12,57,-80,60,-60,62,-25,65,3,70,-8,97,-3,99,-15,103,-5,104,-10,120,-3,123,-60,125,-85,128,-5],
[1,-70,2,-15,4,-50,7,-70,10,-15,12,-35,15,-10,18,-20,25,5,30,-8,38,-15,39,15,42,-30,47,-15,52,-35,60,3,62,5,64,20,74,5,78,15,85,3,95,14,100,-3,101,-25,105,10,113,4,116,22,122,12,128,15],
[4,8,8,-3,29,8,32,-3,40,8,52,3,58,8,59,-15,60,3,61,-15,90,8,96,15,98,-70,100,-100,103,-80,108,-90,110,3,113,-15,120,10,123,3,125,-15,128,-25],
[1,-45,3,-70,4,-35,7,-15,10,-8,12,-40,18,-15,20,-20,23,-30,27,-18,30,-25,38,-20,39,-55,42,-25,46,-18,52,-28,55,-5,61,-12,66,-5,70,-18,72,-35,86,-3,93,-20,96,-30,98,-3,103,-8,104,-35,110,-6,115,-12,118,-25,128,0],
[1,25,4,3,8,20,10,35,13,0,20,5,22,15,30,3,38,5,39,20,46,8,47,25,50,10,52,8,60,0,70,-3,80,-5,83,-3,90,-8,95,-10,100,-3,105,-12,113,-6,116,-15,120,-3,121,-25,128,-3],
[1,0,8,8,9,25,13,6,20,5,40,6,55,8,80,5,81,25,95,5,121,3,127,12,128,0],
[128,2],
[128,0]];

const titles=["B1 (443nm)","B2(490nm)","B3(560nm)","B4(665nm)","B5(705nm)","B6(740nm)","B7(783nm)","B8(842nm)","B8A(865nm)","B9(940nm)","B11(1610nm)","B12(2190nm)"];
const xTicks=[0,20,40,60,80,100,120];
const cbarLabels=["1.00","-1.00"];
const SAMPLES=128;

const layouts=[
{l:125.7,r:839,t:114,b:617,base:68,xx:487,xy:677,tx:488,ty:747,dx:59,dy:388},
{l:998.4,r:1711.6,t:114,b:617,base:68,xx:1367,xy:689,tx:1371,ty:747,dx:921,dy:388},
{l:1881.3,r:2593,t:112,b:614,base:66.4,xx:2241,xy:682,tx:2246,ty:747,dx:1796,dy:388},
{l:2752.4,r:3464.5,t:114,b:616,base:68,xx:3117,xy:682,tx:3117,ty:747,dx:2668,dy:388},
{l:123.5,r:834.5,t:843,b:1344,base:797,xx:487,xy:1407,tx:488,ty:1477,dx:59,dy:1154},
{l:1000.6,r:1712,t:844,b:1345.7,base:798,xx:1367,xy:1405,tx:1371,ty:1477,dx:921,dy:1154},
{l:1873,r:2587,t:843,b:1345.7,base:797,xx:2241,xy:1405,tx:2246,ty:1477,dx:1796,dy:1154},
{l:2749,r:3462,t:843,b:1344.7,base:797,xx:3117,xy:1405,tx:3117,ty:1477,dx:2669,dy:1154},
{l:123.5,r:834.5,t:1580.5,b:2081,base:1535,xx:487,xy:2151,tx:488,ty:2220,dx:59,dy:1857},
{l:1000.6,r:1712,t:1580.5,b:2081,base:1535,xx:1367,xy:2149,tx:1371,ty:2220,dx:921,dy:1857},
{l:1873,r:2587,t:1572.4,b:2076,base:1526.7,xx:2241,xy:2149,tx:2246,ty:2221,dx:1796,dy:1857},
{l:2749,r:3463.5,t:1569,b:2072,base:1523,xx:3117,xy:2149,tx:3117,ty:2220,dx:2669,dy:1857}];

const allDates=[dates1,dates2,dates3,dates4,dates5,dates6,dates7,dates8,dates9,dates10,dates11,dates12];
const allBars=[bars1,bars2,bars3,bars4,bars5,bars6,bars7,bars8,bars9,bars10,bars11,bars12];
const allFx=[fx1,fx2,fx3,fx4,fx5,fx6,fx7,fx8,fx9,fx10,fx11,fx12];
const allHeat=[heat1,heat2,heat3,heat4,heat5,heat6,heat7,heat8,heat9,heat10,heat11,heat12];

const NS='http://www.w3.org/2000/svg';
const fig=document.getElementById('fig');
function mk(tag,attrs,parent,text){
  const e=document.createElementNS(NS,tag);
  for(const k in attrs)e.setAttribute(k,attrs[k]);
  if(text!==undefined)e.textContent=text;
  parent.appendChild(e);
  return e;
}
function color(v){
  const t=Math.max(-1,Math.min(1,v/100));
  const z=[253,254,255],p=[238,152,153],n=[5,143,200];
  const c=t>=0?p:n,a=Math.abs(t);
  return 'rgb('+z.map((q,i)=>Math.round(q+(c[i]-q)*a)).join(',')+')';
}
layouts.forEach((g,pi)=>{
  const dates=allDates[pi],bars=allBars[pi],fx=allFx[pi],heat=allHeat[pi];
  const X=s=>g.l+s*(g.r-g.l)/SAMPLES;
  const rowH=(g.b-g.t)/dates.length;
  const Y=i=>g.t+i*rowH;
  const FY=v=>g.base-v;
  const BW=v=>v;
  const panel=mk('g',{},fig);
  
  
  heat.forEach((row,ri)=>{
    let start=0;
    for(let k=0;k<row.length;k+=2){
      const cell=mk('rect',{x:X(start).toFixed(2),y:Y(ri).toFixed(2),width:(X(row[k])-X(start)+0.4).toFixed(2),height:(rowH+0.4).toFixed(2),fill:color(row[k+1])},panel);
      
      
      start=row[k];
    }
  });
  const base=mk('line',{x1:g.l,x2:g.r,y1:g.base,y2:g.base,stroke:'#bbb','stroke-width':1.5,'stroke-dasharray':'2 2'},panel);
  
  
  let pts=[];
  for(let k=0;k<fx.length;k+=2)pts.push(X(fx[k]+0.5).toFixed(1)+','+FY(fx[k+1]).toFixed(1));
  const line=mk('polyline',{points:pts.join(' '),fill:'none',stroke:'#111','stroke-width':2,'stroke-linejoin':'round'},panel);
  
  
  const sl=mk('line',{x1:g.l,x2:g.l,y1:g.t,y2:g.b+5,stroke:'#333','stroke-width':2},panel);
  
  
  const sr=mk('line',{x1:g.r,x2:g.r,y1:g.t,y2:g.b+5,stroke:'#111','stroke-width':2},panel);
  
  
  bars.forEach((v,i)=>{
    const b=mk('rect',{x:g.r,y:(Y(i)+rowH*0.155).toFixed(2),width:BW(v),height:(rowH*0.69).toFixed(2),fill:'#000'},panel);
    
    
  });
  dates.forEach((d,i)=>{
    const cy=Y(i)+rowH/2;
    const tk=mk('line',{x1:g.l-6,x2:g.l,y1:cy,y2:cy,stroke:'#333','stroke-width':1.5},panel);
    
    
    const tx=g.l-14,ty=cy+4;
    const lb=mk('text',{x:tx,y:ty,'text-anchor':'end','font-size':25,fill:'#222','class':'sans',transform:'rotate(-47 '+tx+' '+ty.toFixed(1)+')'},panel,d);
    
    
  });
  xTicks.forEach(s=>{
    const x=X(s+0.5);
    const tk=mk('line',{x1:x,x2:x,y1:g.b,y2:g.b+5,stroke:'#333','stroke-width':1.5},panel);
    
    
    const lb=mk('text',{x:x,y:g.b+25,'text-anchor':'middle','font-size':16,fill:'#222','class':'sans'},panel,s);
    
    
  });
  const fxX=g.l-30,fxY=g.base+16;
  const fl=mk('text',{x:fxX,y:fxY,'text-anchor':'middle','font-size':25,'font-style':'italic',fill:'#222','class':'sans',transform:'rotate(-47 '+fxX+' '+fxY+')'},panel,'f(x)');
  
  
  const xl=mk('text',{x:g.xx,y:g.xy,'text-anchor':'middle','font-size':51,fill:'#000','class':'serif'},panel,'Training sample');
  
  
  const dl=mk('text',{'text-anchor':'middle','font-size':50,fill:'#000','class':'serif',transform:'translate('+g.dx+' '+g.dy+') rotate(-90) scale(1 1.3)'},panel,'Date');
  
  
  const tl=mk('text',{x:g.tx,y:g.ty,'text-anchor':'middle','font-size':58,'font-weight':'bold',fill:'#000','class':'serif'},panel,titles[pi]);
  
  
});
const cb=mk('g',{},fig);


const cbr=mk('rect',{x:3540,y:1194,width:58,height:904,fill:'url(#cbg)',stroke:'#24405f','stroke-width':2},cb);


[1194,2097].forEach((y,i)=>{
  const t=mk('line',{x1:3598,x2:3615,y1:y,y2:y,stroke:'#222','stroke-width':2},cb);
  
  
  const l=mk('text',{x:i?3619:3631,y:y+14,'font-size':40,fill:'#000','class':'serif'},cb,cbarLabels[i]);
  
  
});
const cbt=mk('text',{x:3625,y:1658,'text-anchor':'middle','font-size':57,fill:'#000','class':'serif',transform:'rotate(90 3625 1658)'},cb,'Impact Value');


</script>
</body>
</html>
